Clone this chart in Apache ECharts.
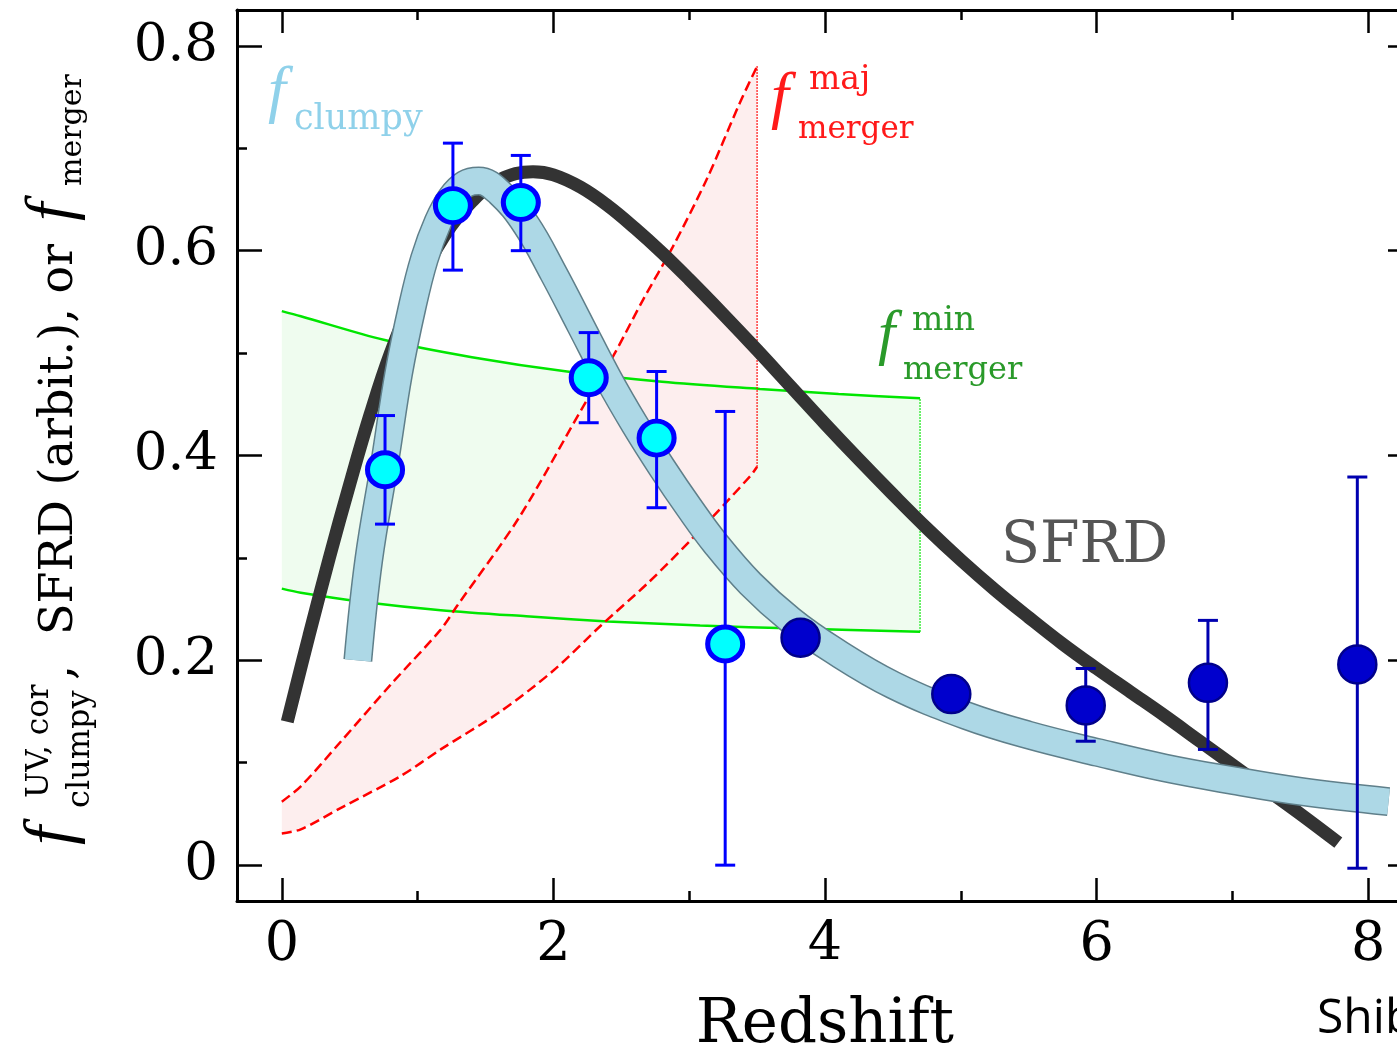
<!DOCTYPE html>
<html><head><meta charset="utf-8">
<script src="https://cdn.jsdelivr.net/npm/echarts@6/dist/echarts.min.js"></script>
<style>html,body{margin:0;padding:0;background:#fff}#c{width:1397px;height:1053px}</style>
</head><body><div id="c"></div>
<script>
// ---- tick values ----
const xTicksMajor = [0, 2, 4, 6, 8];
const xTicksMinor = [1, 3, 5, 7];
const yTicksMajor = [0, 0.2, 0.4, 0.6, 0.8];
const yTicksMinor = [0.1, 0.3, 0.5, 0.7];

// ---- SFRD curve (arbitrary units) ----
const sfrd = [[0.04,0.14],[0.2,0.224],[0.35,0.3],[0.5,0.372],[0.65,0.44],[0.8,0.5],[1.0,0.565],[1.2,0.615],[1.4,0.648],[1.6,0.669],[1.85,0.677],[2.0,0.674],[2.2,0.662],[2.4,0.644],[2.6,0.622],[2.8,0.598],[3.0,0.572],[3.25,0.538],[3.5,0.503],[3.75,0.467],[4.0,0.431],[4.25,0.396],[4.5,0.362],[4.75,0.329],[5.0,0.298],[5.25,0.269],[5.5,0.242],[5.75,0.216],[6.0,0.192],[6.25,0.169],[6.5,0.146],[6.75,0.122],[7.0,0.098],[7.25,0.074],[7.5,0.05],[7.78,0.022]];

// ---- f_clumpy band (centre line) ----
const clumpyBand = [[0.56,0.2],[0.64,0.298],[0.76,0.395],[0.86,0.48],[0.96,0.545],[1.05,0.592],[1.15,0.628],[1.25,0.652],[1.35,0.665],[1.45,0.668],[1.6,0.657],[1.8,0.625],[2.0,0.578],[2.2,0.527],[2.4,0.476],[2.6,0.43],[2.8,0.388],[3.0,0.349],[3.2,0.313],[3.45,0.275],[3.75,0.239],[4.06,0.21],[4.5,0.176],[5.04,0.146],[5.5,0.127],[6.01,0.11],[6.5,0.095],[6.99,0.083],[7.5,0.072],[8.15,0.062]];

// ---- major merger fraction range ----
const majUpper = [[0,0.062],[0.14,0.077],[0.43,0.12],[0.8,0.176],[1.17,0.23],[1.29,0.253],[1.75,0.34],[2.22,0.448],[2.44,0.497],[2.66,0.552],[2.88,0.604],[3.13,0.67],[3.375,0.745],[3.5,0.78]];
const majLower = [[0,0.031],[0.14,0.035],[0.45,0.057],[0.875,0.087],[1.17,0.113],[1.61,0.15],[2.0,0.19],[2.35,0.234],[2.7,0.276],[3.03,0.32],[3.45,0.38],[3.5,0.389]];

// ---- minor merger fraction range ----
const minUpper = [[0,0.541],[0.14,0.536],[0.75,0.513],[1.4,0.496],[2.1,0.482],[2.8,0.472],[3.52,0.465],[4.1,0.46],[4.7,0.456]];
const minLower = [[0,0.27],[0.14,0.266],[0.6,0.257],[1.17,0.249],[1.8,0.243],[2.4,0.238],[3.08,0.234],[3.8,0.231],[4.7,0.228]];

// ---- f_clumpy^UV,cor data ----
const clumpyPtsA = [[0.76,0.386],[1.26,0.644],[1.76,0.647],[2.26,0.476],[2.76,0.417],[3.265,0.216]];
const clumpyErrA = [[0.76,0.333,0.439],[1.26,0.581,0.705],[1.76,0.600,0.693],[2.26,0.432,0.520],[2.76,0.349,0.482],[3.265,0.0,0.443]];
const clumpyPtsB = [[3.82,0.222],[4.93,0.167],[5.92,0.156],[6.82,0.178],[7.92,0.196]];
const clumpyErrB = [[5.92,0.121,0.192],[6.82,0.113,0.239],[7.92,-0.003,0.379]];

const SERIF = '"DejaVu Serif"';
const TIMES = '"Liberation Serif"';

function errorBars(data, color) {
  return {
    type: 'custom', data: data, z: 6, silent: true,
    renderItem: function (params, api) {
      const x = api.value(0), lo = api.value(1), hi = api.value(2);
      const t = api.coord([x, hi]), b = api.coord([x, lo]);
      const hw = 10;
      const st = { stroke: color, lineWidth: 3 };
      return { type: 'group', children: [
        { type: 'line', shape: { x1: t[0], y1: t[1], x2: b[0], y2: b[1] }, style: st },
        { type: 'line', shape: { x1: t[0]-hw, y1: t[1], x2: t[0]+hw, y2: t[1] }, style: st },
        { type: 'line', shape: { x1: b[0]-hw, y1: b[1], x2: b[0]+hw, y2: b[1] }, style: st }
      ]};
    }
  };
}
function fillBetween(upper, lower, color) {
  return {
    type: 'custom', data: [[upper[0][0], upper[0][1]]], z: 1, silent: true,
    renderItem: function (params, api) {
      const pts = upper.map(p => api.coord(p)).concat(lower.slice().reverse().map(p => api.coord(p)));
      return { type: 'polygon', shape: { points: pts }, style: { fill: color } };
    }
  };
}
function line(data, color, width, type, z, smooth) {
  return { type: 'line', data: data, z: z, silent: true, symbol: 'none', showSymbol: false,
    smooth: smooth === undefined ? 0.3 : smooth,
    lineStyle: { color: color, width: width, type: type || 'solid', cap: 'butt' } };
}
function txt(text, x, base, fs, color, family, italic) {
  return { type: 'text', x: x, y: base - 0.34 * fs, z: 100, silent: true,
    style: { text: text, fill: color, font: (italic ? 'italic ' : '') + fs + 'px ' + family,
      textAlign: 'left', textVerticalAlign: 'middle', align: 'left', verticalAlign: 'middle' } };
}

const axisCommon = { type: 'value', splitLine: { show: false } };
function xAx(grid, pos, ticks, len, labels) {
  return Object.assign({}, axisCommon, {
    gridIndex: grid, position: pos, min: -0.33, max: 8.33,
    axisLine: { show: grid === 0, onZero: false, lineStyle: { color: '#000', width: 3 } },
    axisTick: { show: true, inside: true, length: len, customValues: ticks, lineStyle: { color: '#000', width: 2.5 } },
    axisLabel: labels ? { show: true, customValues: ticks, margin: 18, color: '#000', fontFamily: SERIF, fontSize: 54, formatter: v => String(v) } : { show: false }
  });
}
function yAx(grid, pos, ticks, len, labels) {
  return Object.assign({}, axisCommon, {
    gridIndex: grid, position: pos, min: -0.035, max: 0.835,
    axisLine: { show: grid === 0, onZero: false, lineStyle: { color: '#000', width: 3 } },
    axisTick: { show: true, inside: true, length: len, customValues: ticks, lineStyle: { color: '#000', width: 2.5 } },
    axisLabel: labels ? { show: true, customValues: ticks, margin: 19, color: '#000', fontFamily: SERIF, fontSize: 53, formatter: v => (v === 0 ? '0' : v.toFixed(1)) } : { show: false }
  });
}

const gridBox = { left: 237, right: -16, top: 10, bottom: 152, containLabel: false, outerBoundsMode: 'none' };

const bottomX = xAx(0, 'bottom', xTicksMajor, 23, true);
bottomX.name = 'Redshift';
bottomX.nameLocation = 'middle';
bottomX.nameGap = 95;
bottomX.nameTextStyle = { fontFamily: SERIF, fontSize: 61, color: '#000' };

const option = {
  animation: false,
  backgroundColor: '#fff',
  grid: [Object.assign({}, gridBox), Object.assign({}, gridBox)],
  xAxis: [bottomX, xAx(0, 'top', xTicksMajor, 23, false), xAx(1, 'bottom', xTicksMinor, 10, false), xAx(1, 'top', xTicksMinor, 10, false)],
  yAxis: [yAx(0, 'left', yTicksMajor, 25, true), yAx(0, 'right', yTicksMajor, 25, false), yAx(1, 'left', yTicksMinor, 10, false), yAx(1, 'right', yTicksMinor, 10, false)],
  series: [
    fillBetween(minUpper, minLower, '#effcef'),
    fillBetween(majUpper, majLower, '#fdeeee'),
    line(minUpper, '#00e600', 2.5, 'solid', 2),
    line(minLower, '#00e600', 2.5, 'solid', 2),
    line([minLower[minLower.length-1], minUpper[minUpper.length-1]], '#00e600', 1.5, 'dotted', 2, false),
    line(majUpper, '#ff0000', 2.5, [10, 5], 2),
    line(majLower, '#ff0000', 2.5, [10, 5], 2),
    line([majLower[majLower.length-1], majUpper[majUpper.length-1]], '#ff0000', 1.5, 'dotted', 2, false),
    line(sfrd, '#333333', 13, 'solid', 3, 0.4),
    line(clumpyBand, '#5f7f8a', 29, 'solid', 4, 0.4),
    line(clumpyBand, '#add8e6', 26, 'solid', 5, 0.4),
    errorBars(clumpyErrA, '#0000ff'),
    errorBars(clumpyErrB, '#0000b0'),
    { type: 'scatter', data: clumpyPtsA, z: 7, silent: true, symbol: 'circle', symbolSize: [35, 34],
      itemStyle: { color: '#00ffff', borderColor: '#0000ff', borderWidth: 5, opacity: 1 } },
    { type: 'scatter', data: clumpyPtsB, z: 7, silent: true, symbol: 'circle', symbolSize: [38, 38],
      itemStyle: { color: '#0000cd', borderColor: '#00008b', borderWidth: 2.5, opacity: 1 } }
  ],
  graphic: [
    // f_clumpy label
    txt('f', 268, 115, 64, '#8fd1ea', TIMES, true),
    txt('clumpy', 294, 132, 35, '#8fd1ea', SERIF),
    // f_merger^maj
    txt('f', 771, 121, 64, '#ff1a1a', TIMES, true),
    txt('maj', 809, 92, 33, '#ff1a1a', SERIF),
    txt('merger', 798, 140, 31, '#ff1a1a', SERIF),
    // f_merger^min
    txt('f', 878, 358, 62, '#2a9a2a', TIMES, true),
    txt('min', 912, 333, 33, '#2a9a2a', SERIF),
    txt('merger', 903, 382, 32, '#2a9a2a', SERIF),
    // SFRD
    txt('SFRD', 1001, 567, 57, '#555555', SERIF),
    // attribution
    txt('Shib', 1317, 1036, 48, '#000000', '"Open Sans"'),
    // y-axis title (rotated)
    { type: 'group', x: 76, y: 848, rotation: Math.PI / 2, z: 100, children: [
      txt('f', 3, 0, 68, '#000', TIMES, true),
      txt('UV, cor', 50, -26, 31, '#000', SERIF),
      txt('clumpy', 40, 16, 32, '#000', SERIF),
      txt(',', 168, 0, 48, '#000', SERIF),
      txt('SFRD (arbit.), or', 213, 0, 46, '#000', SERIF),
      txt('f', 627, 0, 66, '#000', TIMES, true),
      txt('merger', 662, 7, 30, '#000', SERIF)
    ]}
  ]
};
const chart = echarts.init(document.getElementById('c'), null, { renderer: 'canvas' });
chart.setOption(option);
</script></body></html>
